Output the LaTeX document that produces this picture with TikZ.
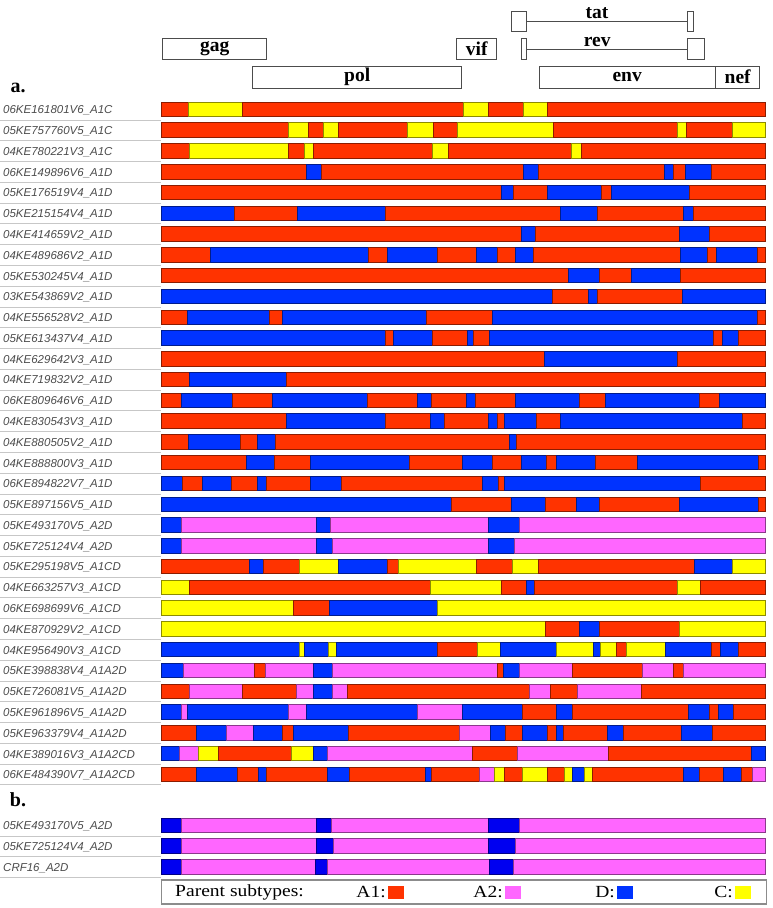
\documentclass[tikz,border=0pt]{standalone}
\usepackage{fontspec}
\setmainfont{Liberation Serif}
\newfontfamily\labfont{Liberation Sans}
\newfontfamily\legfont[FakeStretch=1.15]{Liberation Serif}
\usetikzlibrary{positioning}
\definecolor{segR}{HTML}{FF3300}
\definecolor{segY}{HTML}{FFFF00}
\definecolor{segB}{HTML}{0033FF}
\definecolor{segP}{HTML}{FF66FF}
\definecolor{segQ}{HTML}{0000F0}
% one sequence: top y, node name, label, segments
\newcommand{\segrow}[4]{%
  \node[lab] (#2) at (3,#1+8.5) {#3};
  \draw[sep] (0,#1+17.8) -- (161,#1+17.8);
  \foreach \col/\xa/\xb in {#4}
    \draw[seg=\col] (\xa,#1) rectangle (\xb,#1+14.5);
}

\begin{document}
\begin{tikzpicture}[x=1pt, y=-1pt,
    gene/.style={draw=black!70, line width=0.6pt, inner sep=0pt, font=\fontsize{19.5}{20}\selectfont\bfseries},
    tick/.style={draw=black!70, line width=0.6pt, inner sep=0pt, minimum height=20.7pt},
    gline/.style={draw=black!70, line width=0.6pt},
    gtxt/.style={inner sep=0pt, font=\fontsize{19.5}{20}\selectfont\bfseries},
    sect/.style={inner sep=0pt, font=\fontsize{20}{20}\selectfont\bfseries},
    lab/.style={anchor=west, inner sep=0pt, text=black!70, font=\labfont\itshape\fontsize{11.5}{12}\selectfont},
    sep/.style={draw=black!22, line width=0.6pt},
    seg/.style={fill=seg#1, draw=seg#1!55!black, line width=0.6pt},
    legtxt/.style={inner sep=0pt, font=\legfont\fontsize{17}{17}\selectfont},
    swatch/.style={fill=seg#1, minimum width=16pt, minimum height=13pt, inner sep=0pt, anchor=west}]
  \useasboundingbox (0,0) rectangle (773,908);

  % genome map
  \node[gene, minimum width=104pt, minimum height=21pt] (gag) at (214.7,48.8) {gag};
  \node[gene, minimum width=40pt, minimum height=21pt] (vif) at (476.7,48.8) {vif};
  \node[gene, minimum width=209pt, minimum height=22pt] (pol) at (357.2,77) {pol};
  \node[gene, minimum width=175.7pt, minimum height=22pt] (env) at (627.2,77) {env};
  \node[gene, minimum width=44pt, minimum height=22pt, right=0pt of env] (nef) {nef};
  \node[tick, minimum width=14.3pt] (tatL) at (518.9,21.4) {};
  \node[tick, minimum width=6pt] (tatR) at (690,21.4) {};
  \node[tick, minimum width=5.7pt] (revL) at (523.8,48.8) {};
  \node[tick, minimum width=17pt] (revR) at (695.5,48.8) {};
  \draw[gline] (tatL.east) -- (tatR.west) node[gtxt, pos=0.44, above=2pt] (tat) {tat};
  \draw[gline] (revL.east) -- (revR.west) node[gtxt, pos=0.44, above=2pt] (rev) {rev};

  % section a
  \node[sect] (seca) at (18,88) {a.};
  \segrow{102}{s1}{06KE161801V6\_A1C}{R/161/188,Y/188/242,R/242/463,Y/463/488,R/488/523,Y/523/547,R/547/765}
  \segrow{122.78}{s2}{05KE757760V5\_A1C}{R/161/288,Y/288/308,R/308/323,Y/323/338,R/338/407,Y/407/433,R/433/457,Y/457/553,R/553/677,Y/677/686,R/686/732,Y/732/765}
  \segrow{143.56}{s3}{04KE780221V3\_A1C}{R/161/189,Y/189/288,R/288/304,Y/304/313,R/313/432,Y/432/448,R/448/571,Y/571/581,R/581/765}
  \segrow{164.34}{s4}{06KE149896V6\_A1D}{R/161/306,B/306/321,R/321/523,B/523/538,R/538/664,B/664/673,R/673/685,B/685/711,R/711/765}
  \segrow{185.12}{s5}{05KE176519V4\_A1D}{R/161/501,B/501/513,R/513/547,B/547/601,R/601/611,B/611/689,R/689/765}
  \segrow{205.9}{s6}{05KE215154V4\_A1D}{B/161/234,R/234/297,B/297/385,R/385/560,B/560/597,R/597/683,B/683/693,R/693/765}
  \segrow{226.68}{s7}{04KE414659V2\_A1D}{R/161/521,B/521/535,R/535/679,B/679/709,R/709/765}
  \segrow{247.46}{s8}{04KE489686V2\_A1D}{R/161/210,B/210/368,R/368/387,B/387/437,R/437/476,B/476/497,R/497/515,B/515/533,R/533/680,B/680/707,R/707/716,B/716/757,R/757/765}
  \segrow{268.24}{s9}{05KE530245V4\_A1D}{R/161/568,B/568/599,R/599/631,B/631/680,R/680/765}
  \segrow{289.02}{s10}{03KE543869V2\_A1D}{B/161/552,R/552/588,B/588/597,R/597/682,B/682/765}
  \segrow{309.8}{s11}{04KE556528V2\_A1D}{R/161/187,B/187/269,R/269/282,B/282/426,R/426/492,B/492/757,R/757/765}
  \segrow{330.58}{s12}{05KE613437V4\_A1D}{B/161/385,R/385/393,B/393/432,R/432/467,B/467/473,R/473/489,B/489/713,R/713/722,B/722/738,R/738/765}
  \segrow{351.36}{s13}{04KE629642V3\_A1D}{R/161/544,B/544/677,R/677/765}
  \segrow{372.14}{s14}{04KE719832V2\_A1D}{R/161/189,B/189/286,R/286/765}
  \segrow{392.92}{s15}{06KE809646V6\_A1D}{R/161/181,B/181/232,R/232/272,B/272/367,R/367/417,B/417/431,R/431/466,B/466/475,R/475/515,B/515/579,R/579/605,B/605/699,R/699/719,B/719/765}
  \segrow{413.7}{s16}{04KE830543V3\_A1D}{R/161/286,B/286/385,R/385/430,B/430/444,R/444/488,B/488/497,R/497/504,B/504/536,R/536/560,B/560/742,R/742/765}
  \segrow{434.48}{s17}{04KE880505V2\_A1D}{R/161/188,B/188/240,R/240/257,B/257/275,R/275/509,B/509/516,R/516/765}
  \segrow{455.26}{s18}{04KE888800V3\_A1D}{R/161/246,B/246/274,R/274/310,B/310/409,R/409/462,B/462/492,R/492/521,B/521/546,R/546/556,B/556/595,R/595/637,B/637/758,R/758/765}
  \segrow{476.04}{s19}{06KE894822V7\_A1D}{B/161/182,R/182/202,B/202/231,R/231/257,B/257/266,R/266/310,B/310/341,R/341/482,B/482/498,R/498/504,B/504/700,R/700/765}
  \segrow{496.82}{s20}{05KE897156V5\_A1D}{B/161/451,R/451/511,B/511/545,R/545/576,B/576/599,R/599/679,B/679/758,R/758/765}
  \segrow{517.6}{s21}{05KE493170V5\_A2D}{B/161/181,P/181/316,B/316/330,P/330/488,B/488/519,P/519/765}
  \segrow{538.38}{s22}{05KE725124V4\_A2D}{B/161/181,P/181/316,B/316/332,P/332/488,B/488/514,P/514/765}
  \segrow{559.16}{s23}{05KE295198V5\_A1CD}{R/161/249,B/249/263,R/263/299,Y/299/338,B/338/387,R/387/398,Y/398/476,R/476/512,Y/512/538,R/538/694,B/694/732,Y/732/765}
  \segrow{579.94}{s24}{04KE663257V3\_A1CD}{Y/161/189,R/189/430,Y/430/501,R/501/526,B/526/534,R/534/677,Y/677/700,R/700/765}
  \segrow{600.72}{s25}{06KE698699V6\_A1CD}{Y/161/293,R/293/329,B/329/437,Y/437/765}
  \segrow{621.5}{s26}{04KE870929V2\_A1CD}{Y/161/545,R/545/579,B/579/599,R/599/679,Y/679/765}
  \segrow{642.28}{s27}{04KE956490V3\_A1CD}{B/161/299,Y/299/304,B/304/328,Y/328/336,B/336/437,R/437/477,Y/477/500,B/500/556,Y/556/593,B/593/600,Y/600/616,R/616/626,Y/626/665,B/665/711,R/711/720,B/720/738,R/738/765}
  \segrow{663.06}{s28}{05KE398838V4\_A1A2D}{B/161/183,P/183/254,R/254/265,P/265/313,B/313/332,P/332/497,R/497/503,B/503/519,P/519/572,R/572/642,P/642/673,R/673/683,P/683/765}
  \segrow{683.84}{s29}{05KE726081V5\_A1A2D}{R/161/189,P/189/242,R/242/296,P/296/313,B/313/332,P/332/347,R/347/529,P/529/550,R/550/577,P/577/641,R/641/765}
  \segrow{704.62}{s30}{05KE961896V5\_A1A2D}{B/161/181,P/181/187,B/187/288,P/288/306,B/306/417,P/417/462,B/462/522,R/522/556,B/556/572,R/572/688,B/688/709,R/709/718,B/718/733,R/733/765}
  \segrow{725.4}{s31}{05KE963379V4\_A1A2D}{R/161/196,B/196/226,P/226/253,B/253/282,R/282/293,B/293/348,R/348/459,P/459/490,B/490/505,R/505/522,B/522/547,R/547/556,B/556/563,R/563/607,B/607/623,R/623/681,B/681/712,R/712/765}
  \segrow{746.18}{s32}{04KE389016V3\_A1A2CD}{B/161/179,P/179/198,Y/198/218,R/218/291,Y/291/313,B/313/327,P/327/472,R/472/517,P/517/608,R/608/751,B/751/765}
  \segrow{766.96}{s33}{06KE484390V7\_A1A2CD}{R/161/196,B/196/237,R/237/258,B/258/266,R/266/327,B/327/349,R/349/425,B/425/431,R/431/479,P/479/494,Y/494/504,R/504/522,Y/522/547,R/547/564,Y/564/572,B/572/584,Y/584/592,R/592/683,B/683/699,R/699/723,B/723/741,R/741/752,P/752/765}

  % section b
  \node[sect] (secb) at (18,800) {b.};
  \segrow{818}{t1}{05KE493170V5\_A2D}{Q/161/181,P/181/316,Q/316/331,P/331/488,Q/488/519,P/519/765}
  \segrow{838.7}{t2}{05KE725124V4\_A2D}{Q/161/181,P/181/316,Q/316/333,P/333/488,Q/488/515,P/515/765}
  \segrow{859.4}{t3}{CRF16\_A2D}{Q/161/181,P/181/315,Q/315/327,P/327/489,Q/489/513,P/513/765}

  % legend
  \node[draw=black!45, line width=1.5pt, minimum width=605pt, minimum height=24pt, inner sep=0pt] (legend) at (464,892) {};
  \node[legtxt, anchor=west] (ptxt) at (175,892) {Parent subtypes:};
  \node[legtxt, anchor=east] (aonetxt) at (386,892) {A1:};
  \node[swatch=R] (aonekey) at (388,892) {};
  \node[legtxt, anchor=east] (atwotxt) at (503,892) {A2:};
  \node[swatch=P] (atwokey) at (505,892) {};
  \node[legtxt, anchor=east] (dtxt) at (615,892) {D:};
  \node[swatch=B] (dkey) at (617,892) {};
  \node[legtxt, anchor=east] (ctxt) at (733,892) {C:};
  \node[swatch=Y] (ckey) at (735,892) {};
\end{tikzpicture}
\end{document}
